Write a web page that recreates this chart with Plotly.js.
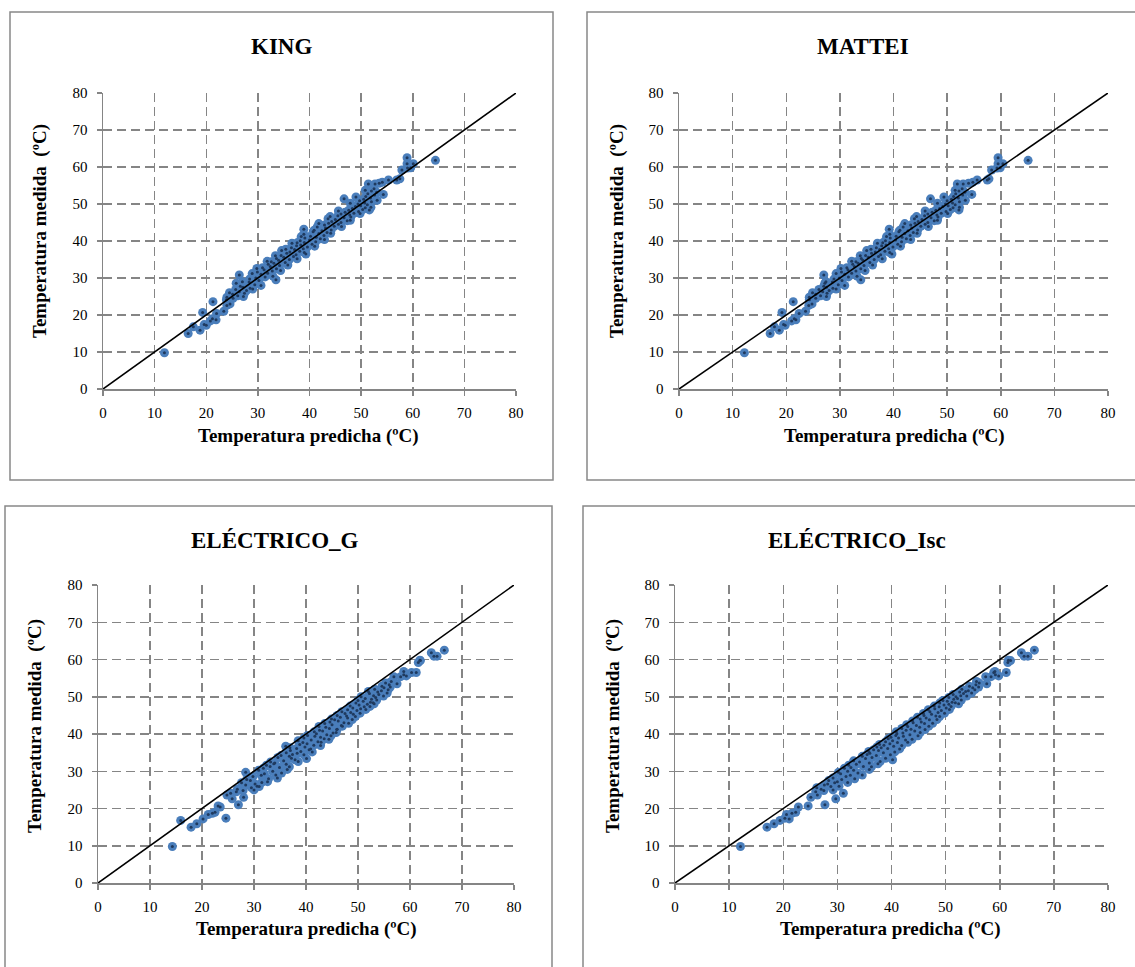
<!DOCTYPE html>
<html>
<head>
<meta charset="utf-8">
<script src="https://cdn.plot.ly/plotly-3.0.1.min.js"></script>
<style>
html,body{margin:0;padding:0;background:#fff;}
#chart{width:1135px;height:967px;}
</style>
</head>
<body>
<div id="chart"></div>
<script>
// Measured temperature (ºC) – common to all four models
const measured = [
 9.8,15.0,15.9,16.8,17.2,17.4,18.4,18.7,19.0,20.4,
 20.7,21.0,22.6,23.0,23.6,24.1,24.5,24.8,25.2,25.6,
 25.9,26.3,26.6,26.9,27.2,27.5,27.8,28.2,28.6,28.9,
 29.3,29.5,29.7,30.0,30.3,30.8,31.0,31.3,31.6,31.9,
 32.2,32.5,32.8,33.1,33.4,33.7,34.0,34.2,34.5,34.8,
 35.0,35.3,35.6,35.8,36.1,36.3,36.5,36.7,37.0,37.2,
 37.4,37.7,37.9,38.2,38.4,38.7,38.9,39.1,39.4,39.6,
 39.8,40.1,40.3,40.6,40.8,41.0,41.3,41.5,41.8,42.0,
 42.3,42.5,42.8,43.0,43.2,43.5,43.8,44.0,44.3,44.5,
 44.8,45.0,45.3,45.5,45.8,46.0,46.3,46.5,46.8,47.0,
 47.3,47.5,47.8,48.0,48.3,48.4,48.5,48.8,49.0,49.3,
 49.5,49.8,50.0,50.3,50.6,50.9,51.3,51.4,51.6,52.0,
 52.4,52.8,53.2,53.5,53.7,54.1,55.4,55.4,55.6,55.9,
 56.5,56.5,56.8,59.2,59.7,59.8,60.9,60.9,61.8,62.5,
 28.0,29.0,30.5,31.2,32.0,32.6,33.5,34.4,35.2,36.0,
 36.9,37.8,38.6,39.5,40.4,41.2,42.1,42.9,43.9,44.7,
 45.6,46.6,47.4,48.1,49.1,50.2,51.0,51.9,52.6,27.0,
 26.0,25.0
];
// Predicted temperature (ºC) – KING
const kingPred = [
 11.9,16.5,18.8,17.5,20.0,19.6,20.8,21.9,21.2,22.0,
 19.3,23.4,24.0,24.6,21.3,23.9,25.2,24.0,26.1,25.1,
 27.4,26.4,27.8,25.7,28.5,27.1,26.6,29.4,25.8,28.3,
 30.2,33.5,28.4,29.6,31.4,26.4,30.6,31.9,29.9,32.8,
 31.2,33.6,30.9,32.4,34.2,32.0,33.1,35.3,31.8,34.0,
 36.1,33.6,35.0,36.9,34.5,37.4,39.3,35.6,36.2,38.1,
 34.6,37.1,38.8,36.5,39.6,37.5,38.3,40.5,36.6,39.0,
 41.2,38.2,40.0,42.1,39.1,41.3,40.2,42.8,38.9,41.8,
 43.4,40.7,42.4,44.2,38.9,43.1,41.5,44.8,42.9,45.6,
 43.7,46.1,44.3,47.3,45.0,43.6,46.7,48.0,45.5,47.8,
 46.1,48.6,46.9,49.5,47.6,51.6,50.3,48.3,50.8,48.9,
 49.9,51.2,49.4,50.7,52.0,49.7,50.5,46.7,51.8,50.9,
 52.6,51.3,53.0,52.0,50.8,52.5,51.4,52.7,53.5,54.1,
 55.3,56.9,57.5,57.9,59.0,59.6,58.9,60.1,64.4,58.9,
 30.6,27.0,32.9,28.9,34.4,29.8,35.8,32.6,37.6,33.4,
 39.0,35.4,41.0,37.6,42.9,38.4,44.1,40.9,46.2,41.8,
 47.9,44.0,49.8,45.6,51.9,47.9,53.1,49.0,54.3,29.0,
 24.5,27.2
];
// Predicted temperature (ºC) – MATTEI
const matteiPred = [
 12.2,17.0,18.7,17.8,19.8,19.5,21.0,21.8,21.5,22.4,
 19.2,23.6,24.2,24.8,21.3,24.3,25.5,24.3,26.4,25.5,
 27.6,26.8,28.0,26.1,28.7,27.5,27.0,29.7,27.2,28.6,
 30.4,33.9,28.9,29.9,31.6,27.0,30.9,32.2,30.3,33.0,
 31.5,33.9,31.3,32.7,34.5,32.4,33.4,35.6,32.2,34.3,
 36.4,34.0,35.3,37.2,34.8,37.6,39.7,35.9,36.6,38.4,
 35.0,37.4,39.1,36.8,39.9,37.8,38.6,40.8,37.0,39.3,
 41.5,38.5,40.4,42.4,39.4,41.6,40.5,43.1,39.3,42.1,
 43.7,41.0,42.7,44.5,39.2,43.4,41.8,45.1,43.2,45.9,
 44.0,46.4,44.6,47.6,45.3,43.9,47.0,48.3,45.8,48.1,
 46.4,48.9,47.2,49.8,47.9,52.2,50.6,48.6,51.1,49.2,
 50.2,51.5,49.7,51.0,52.3,50.0,50.8,46.9,52.1,51.2,
 52.9,51.6,53.3,52.2,51.5,52.8,51.9,53.0,54.0,54.8,
 55.6,57.5,57.8,58.3,59.3,59.9,59.5,60.4,65.1,59.5,
 30.9,27.4,33.2,29.3,34.7,30.2,36.1,33.0,37.9,33.8,
 39.3,35.8,41.3,38.0,43.2,38.7,44.4,41.2,46.5,42.1,
 48.2,44.3,50.1,45.9,52.3,48.2,53.4,49.4,54.6,29.3,
 24.9,27.5
];
// Predicted temperature (ºC) – ELÉCTRICO_G
const elecGPred = [
 14.3,17.9,19.0,15.9,20.2,24.6,21.2,22.0,22.5,23.5,
 23.1,27.0,25.8,28.0,24.8,25.5,26.6,27.9,26.8,29.5,
 31.0,28.4,30.2,27.6,32.6,29.3,28.6,34.5,29.8,31.4,
 32.0,35.3,28.4,33.6,30.9,31.8,34.9,33.1,32.4,36.2,
 34.0,33.2,35.7,37.9,40.1,34.6,36.8,35.2,37.4,38.3,
 36.2,39.0,37.0,40.6,38.2,36.9,39.8,36.1,41.5,38.8,
 40.2,39.4,42.3,38.5,41.0,43.5,39.6,42.8,41.7,40.3,
 44.0,42.0,45.2,41.6,43.2,42.6,46.0,44.5,43.8,42.5,
 46.8,45.0,43.6,47.3,44.6,46.2,45.5,44.9,48.0,46.6,
 47.8,46.0,49.1,47.5,48.6,46.9,49.8,48.0,50.5,49.0,
 51.2,48.5,50.2,51.8,49.6,52.9,52.4,51.0,50.0,52.6,
 51.4,53.4,50.6,53.0,54.0,52.2,53.8,52.0,54.5,53.2,
 55.0,54.6,56.0,57.5,55.3,56.4,56.9,58.2,59.3,58.8,
 60.3,61.2,58.8,61.6,62.0,61.9,65.2,64.6,64.1,66.6,
 32.8,34.2,36.4,36.8,33.8,38.5,37.2,39.6,41.2,40.9,
 42.8,42.9,44.4,44.8,45.8,45.9,47.0,48.2,48.9,49.5,
 50.4,51.5,52.3,53.1,53.6,54.9,55.6,55.8,56.2,31.5,
 30.6,30.0
];
// Predicted temperature (ºC) – ELÉCTRICO_Isc
const elecIscPred = [
 12.1,17.0,18.3,19.4,21.1,20.3,20.6,21.6,22.3,22.8,
 24.6,27.7,29.7,25.1,26.3,31.1,26.0,27.5,27.0,26.2,
 28.8,27.6,28.2,29.5,30.0,28.4,30.8,29.2,31.6,32.4,
 30.6,33.8,30.2,31.9,33.0,31.3,32.5,34.8,32.1,33.5,
 35.9,34.1,33.0,40.2,35.2,36.4,34.6,37.2,35.5,36.0,
 38.5,35.8,37.6,36.7,39.3,38.1,37.3,40.4,38.6,37.8,
 39.7,41.1,38.9,40.2,42.6,39.4,41.3,39.9,42.2,40.8,
 43.4,41.0,42.1,40.9,44.3,42.7,43.6,41.9,45.2,43.0,
 44.6,42.8,46.1,44.0,45.5,43.9,47.0,45.3,46.4,44.8,
 48.2,46.0,47.4,45.9,48.6,47.1,49.2,46.8,48.0,50.1,
 48.8,47.9,49.7,50.6,48.9,51.8,51.2,50.3,49.5,51.5,
 52.2,50.6,51.9,52.8,51.4,53.3,52.6,53.7,54.2,53.0,
 55.0,54.4,55.6,57.6,56.2,55.7,57.4,58.4,59.8,59.2,
 58.9,61.2,59.1,61.5,62.0,61.6,65.2,64.5,64.0,66.4,
 33.2,34.6,35.9,36.3,37.5,37.9,38.9,39.8,40.6,41.5,
 41.9,43.0,43.8,44.9,45.3,46.2,46.9,47.6,48.4,48.9,
 49.8,50.7,51.0,52.4,52.9,53.9,54.8,55.4,56.1,31.9,
 30.3,29.2
];
const refLine = [0, 80];
const tickVals = [0, 10, 20, 30, 40, 50, 60, 70, 80];
const panelTitles = ['KING', 'MATTEI', 'ELÉCTRICO_G', 'ELÉCTRICO_Isc'];
const xTitle = 'Temperatura predicha (ºC)';
const yTitle = 'Temperatura medida  (ºC)';

const W = 1135, H = 967;
const px = v => v / W;
const py = v => 1 - v / H;

const predicted = [kingPred, matteiPred, elecGPred, elecIscPred];
// layout geometry (pixels)
const geo = [
  {x0:103, x1:516, y0:93,  y1:389, box:[10,12,553,480],  tx:281, ty:47,  xtx:309, xty:436, ytx:40,  yty:231},
  {x0:679, x1:1108,y0:93,  y1:389, box:[587,12,1145,480], tx:863, ty:47,  xtx:894, xty:436, ytx:617, yty:231},
  {x0:98,  x1:514, y0:585, y1:883, box:[5,506,552,980],   tx:275, ty:540, xtx:306, xty:929, ytx:35,  yty:726},
  {x0:675, x1:1108,y0:585, y1:883, box:[583,506,1145,980],tx:857, ty:540, xtx:890, xty:929, ytx:613, yty:726}
];

const serif = 'Liberation Serif';
const gridCol = '#858585';
const traces = [];
const layout = {
  width: W, height: H, autosize: false,
  margin: {l:0, r:0, t:0, b:0},
  paper_bgcolor: '#fff', plot_bgcolor: '#fff',
  showlegend: false,
  shapes: [], annotations: []
};

predicted.forEach((pred, i) => {
  const g = geo[i];
  const xa = i === 0 ? 'x' : 'x' + (i + 1);
  const ya = i === 0 ? 'y' : 'y' + (i + 1);
  const xk = i === 0 ? 'xaxis' : 'xaxis' + (i + 1);
  const yk = i === 0 ? 'yaxis' : 'yaxis' + (i + 1);
  const axBase = {
    range: [0, 80.0001], tickvals: tickVals, ticks: 'outside', ticklen: 5,
    tickcolor: gridCol, tickwidth: 1.5, showline: true, linecolor: gridCol, linewidth: 1.5,
    showgrid: true, gridcolor: gridCol, gridwidth: 1.5, griddash: '9px,5px',
    zeroline: false, fixedrange: true,
    tickfont: {family: serif, size: 15, color: '#000'}
  };
  layout[xk] = Object.assign({}, axBase, {domain: [px(g.x0), px(g.x1)], anchor: ya, ticklabelstandoff: 4});
  layout[yk] = Object.assign({}, axBase, {domain: [py(g.y1), py(g.y0)], anchor: xa, ticklabelstandoff: 6});

  traces.push({
    type: 'scatter', mode: 'markers', x: pred, y: measured, xaxis: xa, yaxis: ya,
    marker: {size: 9, color: '#4A7EBB', line: {width: 0}}, hoverinfo: 'x+y'
  });
  traces.push({
    type: 'scatter', mode: 'markers', x: pred, y: measured, xaxis: xa, yaxis: ya,
    marker: {size: 3, color: '#1F3A5F', line: {width: 0}}, hoverinfo: 'skip'
  });
  traces.push({
    type: 'scatter', mode: 'lines', x: refLine, y: refLine, xaxis: xa, yaxis: ya,
    line: {color: '#000', width: 1.6}, hoverinfo: 'skip'
  });

  layout.shapes.push({
    type: 'rect', xref: 'paper', yref: 'paper',
    x0: px(g.box[0]), x1: px(g.box[2]), y0: py(g.box[3]), y1: py(g.box[1]),
    line: {color: '#888', width: 1.5}, fillcolor: 'rgba(0,0,0,0)', layer: 'below'
  });
  layout.annotations.push({
    text: '<b>' + panelTitles[i] + '</b>', xref: 'paper', yref: 'paper',
    x: px(g.tx), y: py(g.ty), xanchor: 'center', yanchor: 'middle', showarrow: false,
    font: {family: serif, size: 23, color: '#000'}
  });
  layout.annotations.push({
    text: '<b>' + xTitle + '</b>', xref: 'paper', yref: 'paper',
    x: px(g.xtx), y: py(g.xty), xanchor: 'center', yanchor: 'middle', showarrow: false,
    font: {family: serif, size: 19, color: '#000'}
  });
  layout.annotations.push({
    text: '<b>' + yTitle + '</b>', xref: 'paper', yref: 'paper', textangle: -90,
    x: px(g.ytx), y: py(g.yty), xanchor: 'center', yanchor: 'middle', showarrow: false,
    font: {family: serif, size: 19, color: '#000'}
  });
});

Plotly.newPlot('chart', traces, layout, {displayModeBar: false, staticPlot: true});
</script>
</body>
</html>
